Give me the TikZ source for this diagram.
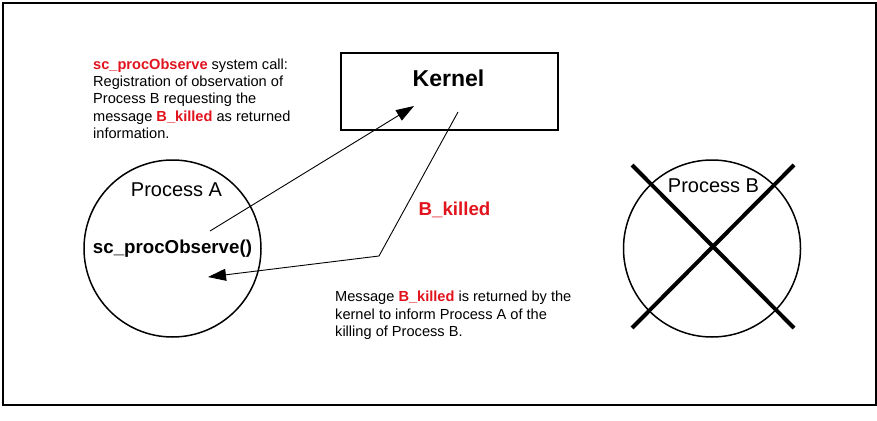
\documentclass[tikz,border=0pt]{standalone}
\usepackage{fontspec}
\setmainfont{Liberation Sans}
\usetikzlibrary{arrows.meta}
\definecolor{msgred}{RGB}{225,20,30}
\tikzset{
  smalltxt/.style={font=\fontsize{14.6}{17.3}\selectfont, align=left, inner sep=0pt, anchor=north west},
  bigbold/.style={font=\fontsize{18.7}{22}\selectfont\bfseries, inner sep=0pt, anchor=base},
  proclabel/.style={font=\fontsize{20}{24}\selectfont, inner sep=0pt, anchor=base},
  proc/.style={draw, circle, line width=1.5pt, inner sep=0pt, minimum size=177pt},
  msgarrow/.style={line width=0.9pt, -{Triangle[length=18pt,width=12pt]}},
  crossline/.style={line width=4pt},
}
\newcommand{\red}[1]{\textcolor{msgred}{\bfseries #1}}
\begin{document}
\begin{tikzpicture}[x=1pt,y=-1pt]
\useasboundingbox (0,0) rectangle (877,420);
% outer frame
\node[draw, line width=2pt, inner sep=0pt, minimum width=873pt, minimum height=401pt, anchor=north west] (frame) at (2,2.5) {};
% kernel box
\node[draw, line width=2pt, inner sep=0pt, minimum width=217pt, minimum height=77pt, anchor=north west] (kernel) at (340,52) {};
\node[font=\fontsize{23}{27}\selectfont\bfseries, inner sep=0pt, anchor=base] (kernellabel) at (448.5,86) {Kernel};
% process A
\node[proc] (procA) at (172.5,248.5) {};
\node[proclabel] (procAlabel) at (176.5,196.5) {Process A};
\node[bigbold] (call) at (172.5,253) {sc\_procObserve()};
% process B
\node[proc] (procB) at (712,248.5) {};
\node[proclabel] (procBlabel) at (713.5,192.5) {Process B};
\coordinate (x1) at (632,165);
\coordinate (x2) at (794,328);
\coordinate (x3) at (794,165);
\coordinate (x4) at (632,328);
\draw[crossline] (x1) -- (x2);
\draw[crossline] (x3) -- (x4);
% arrows
\coordinate (a1s) at (210,231);
\coordinate (a1e) at (414,106);
\draw[msgarrow] (a1s) -- (a1e);
\coordinate (a2s) at (458,112);
\coordinate (a2m) at (379,256);
\coordinate (a2e) at (208,277);
\draw[msgarrow] (a2s) -- (a2m) -- (a2e);
\node[bigbold, text=msgred] (bk) at (454.5,215) {B\_killed};
% texts
\node[smalltxt] (note1) at (93,58.5) {\red{sc\_procObserve} system call:\\Registration of observation of\\Process B requesting the\\message \red{B\_killed} as returned\\information.};
\node[smalltxt] (note2) at (335,291) {Message \red{B\_killed} is returned by the\\kernel to inform Process A of the\\killing of Process B.};
\end{tikzpicture}
\end{document}
